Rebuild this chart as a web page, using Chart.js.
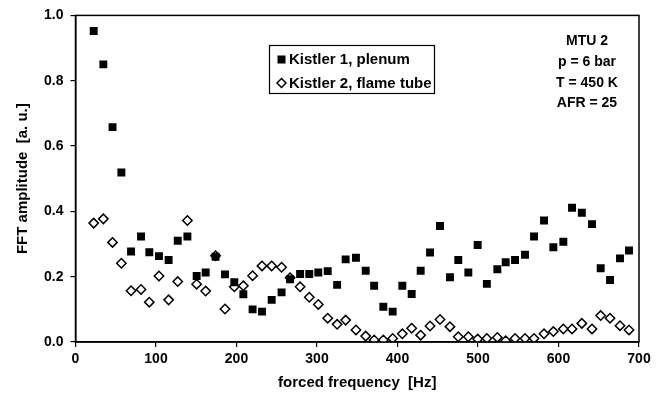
<!DOCTYPE html>
<html>
<head>
<meta charset="utf-8">
<script src="https://cdn.jsdelivr.net/npm/chart.js@4/dist/chart.umd.min.js"></script>
<style>
html,body{margin:0;padding:0;background:#fff;}
#wrap{width:660px;height:406px;position:relative;}
</style>
</head>
<body>
<div id="wrap"><canvas id="c" width="660" height="406"></canvas></div>
<script>
// forced frequency [Hz]
const frequencies = [22.6,34.6,46,57,69,81.4,91.7,103.7,115.7,127,139,150.5,161.7,174,185.7,197.3,208.5,220,231.7,243.7,256,266.5,279,290.4,301.6,313.3,325,335.6,348.4,360.5,371,382.4,394,406,417.6,428.8,440.4,452.8,465.2,475.5,488,499.6,511,524,534.4,546,558.4,569.6,582,593.6,606,616.8,629,641.6,652.4,664,676.4,687.6];
// Kistler 1, plenum
const plenum = [0.952,0.85,0.658,0.519,0.277,0.323,0.275,0.263,0.251,0.31,0.323,0.202,0.213,0.261,0.207,0.183,0.146,0.10,0.093,0.129,0.152,0.192,0.208,0.208,0.213,0.217,0.175,0.253,0.258,0.218,0.172,0.108,0.093,0.172,0.147,0.218,0.274,0.355,0.198,0.251,0.213,0.297,0.178,0.223,0.244,0.251,0.267,0.323,0.372,0.29,0.307,0.411,0.396,0.361,0.226,0.19,0.256,0.28];
// Kistler 2, flame tube
const flameTube = [0.364,0.377,0.305,0.241,0.157,0.161,0.122,0.202,0.129,0.185,0.372,0.177,0.156,0.264,0.101,0.169,0.172,0.203,0.233,0.233,0.229,0.197,0.169,0.137,0.115,0.073,0.054,0.067,0.037,0.018,0.006,0.006,0.011,0.025,0.042,0.021,0.049,0.069,0.047,0.016,0.016,0.009,0.011,0.014,0.004,0.011,0.011,0.011,0.025,0.032,0.040,0.040,0.057,0.040,0.081,0.073,0.050,0.037];
const seriesLabels = ["Kistler 1, plenum", "Kistler 2, flame tube"];
const infoLines = ["MTU 2", "p = 6 bar", "T = 450 K", "AFR = 25"];
const xTicks = [0,100,200,300,400,500,600,700];
const yTicks = [0.0,0.2,0.4,0.6,0.8,1.0];

const FONT = "'Liberation Sans', Arial, Helvetica, sans-serif";

const toPts = (vals) => vals.map((v,i)=>({x:frequencies[i], y:v}));

const framePlugin = {
  id:'frame',
  afterDatasetsDraw(chart){
    const {ctx, chartArea:a} = chart;
    ctx.save();
    ctx.strokeStyle='#000';
    ctx.lineWidth=1.5;
    ctx.strokeRect(a.left, a.top, a.right-a.left, a.bottom-a.top);
    // legend box
    ctx.lineWidth=1.2;
    ctx.strokeRect(269.5, 45.5, 165, 48);
    ctx.font = "bold 15px " + FONT;
    ctx.fillStyle='#000';
    ctx.textBaseline='middle';
    ctx.textAlign='left';
    // square marker
    ctx.fillRect(277.5, 55.5, 8, 8);
    ctx.fillText(seriesLabels[0], 289, 60);
    // diamond marker
    ctx.beginPath();
    ctx.moveTo(281.5, 78.5); ctx.lineTo(286, 83); ctx.lineTo(281.5, 87.5); ctx.lineTo(277, 83); ctx.closePath();
    ctx.fillStyle='#fff'; ctx.fill();
    ctx.lineWidth=1.5; ctx.strokeStyle='#000'; ctx.stroke();
    ctx.fillStyle='#000';
    ctx.fillText(seriesLabels[1], 289, 83.5);
    // info text
    ctx.font = "bold 14px " + FONT;
    ctx.textAlign='center';
    const ys=[41,62,83,103];
    infoLines.forEach((t,i)=>ctx.fillText(t, 587, ys[i]));
    ctx.restore();
  }
};

new Chart(document.getElementById('c'), {
  type:'scatter',
  data:{
    datasets:[
      {label:seriesLabels[0], data:toPts(plenum), pointStyle:'rect', pointRadius:5.6, pointHoverRadius:5.6,
       backgroundColor:'#000', borderColor:'#000', borderWidth:0},
      {label:seriesLabels[1], data:toPts(flameTube), pointStyle:'rectRot', pointRadius:4.7, pointHoverRadius:4.7,
       backgroundColor:'#fff', borderColor:'#000', borderWidth:1.5}
    ]
  },
  options:{
    responsive:false,
    animation:false,
    events:[],
    layout:{padding:{left:0, top:15, right:21, bottom:0}},
    plugins:{legend:{display:false}, tooltip:{enabled:false}},
    scales:{
      x:{
        type:'linear', min:0, max:700,
        afterBuildTicks(s){ s.ticks = xTicks.map(v=>({value:v})); },
        afterFit(s){ s.height = 64; },
        grid:{display:true, drawOnChartArea:false, drawTicks:true, tickLength:5, color:'#000', lineWidth:1.2},
        border:{display:true, color:'#000', width:1.5},
        ticks:{color:'#000', padding:4, font:{family:FONT, size:14, weight:'bold'}, maxRotation:0, autoSkip:false},
        title:{display:true, text:'forced frequency  [Hz]', color:'#000', font:{family:FONT, size:15, weight:'bold'}, padding:{top:0,bottom:14}}
      },
      y:{
        type:'linear', min:0, max:1,
        afterBuildTicks(s){ s.ticks = yTicks.map(v=>({value:v})); },
        afterFit(s){ s.width = 75.5; },
        grid:{display:true, drawOnChartArea:false, drawTicks:true, tickLength:5, color:'#000', lineWidth:1.2},
        border:{display:true, color:'#000', width:1.5},
        ticks:{color:'#000', padding:7, font:{family:FONT, size:14, weight:'bold'}, callback:(v)=>Number(v).toFixed(1)},
        title:{display:true, text:'FFT amplitude  [a. u.]', color:'#000', font:{family:FONT, size:15, weight:'bold'}, padding:{top:14,bottom:0}}
      }
    }
  },
  plugins:[framePlugin]
});
</script>
</body>
</html>
